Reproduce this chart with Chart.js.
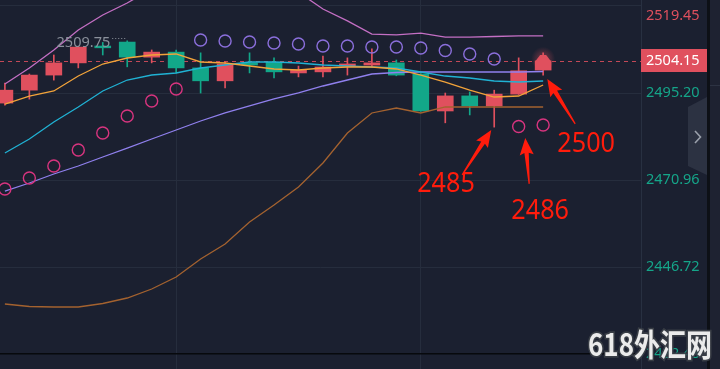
<!DOCTYPE html>
<html>
<head>
<meta charset="utf-8">
<title>K线</title>
<script src="https://cdn.jsdelivr.net/npm/chart.js@4.4.1/dist/chart.umd.min.js"></script>
<style>
html, body { margin: 0; padding: 0; background: #1b2030; overflow: hidden; }
#box { position: relative; width: 720px; height: 369px; }
</style>
</head>
<body>
<div id="box"><canvas id="kline" width="720" height="369"></canvas></div>
<script>
// candles, one per slot, left to right
const opens  = [2492.4, 2496.0, 2500.2, 2503.6, 2508.3, 2509.4, 2505.2, 2506.6, 2502.2, 2498.6, 2503.6, 2503.8, 2500.8, 2501.1, 2502.7, 2503.0, 2503.6, 2500.5, 2490.2, 2494.4, 2491.6, 2494.9, 2501.6];
const highs  = [2498.0, 2500.5, 2505.8, 2508.2, 2509.3, 2509.75, 2507.2, 2507.2, 2506.4, 2503.9, 2506.4, 2505.0, 2502.7, 2505.5, 2505.0, 2507.5, 2504.4, 2500.6, 2495.2, 2495.5, 2496.0, 2505.0, 2506.4];
const lows   = [2491.8, 2493.5, 2498.8, 2502.2, 2505.8, 2502.5, 2503.6, 2500.8, 2495.2, 2496.6, 2500.8, 2499.4, 2499.7, 2499.7, 2500.2, 2502.5, 2500.0, 2490.1, 2486.9, 2489.1, 2485.7, 2494.8, 2500.2];
const closes = [2496.0, 2500.2, 2503.6, 2508.0, 2507.8, 2505.2, 2506.6, 2502.2, 2498.6, 2503.3, 2503.0, 2501.1, 2501.6, 2502.45, 2503.3, 2503.6, 2500.2, 2490.2, 2494.4, 2491.6, 2494.9, 2501.4, 2504.15];

// moving averages
const maFast = [2492.14, 2494.37, 2495.77, 2499.94, 2503.29, 2504.96, 2505.80, 2506.08, 2503.85, 2503.57, 2502.73, 2501.90, 2501.62, 2502.17, 2502.45, 2502.45, 2501.90, 2500.22, 2498.27, 2496.04, 2494.09, 2494.37, 2497.44];
const maSlow = [2478.49, 2482.39, 2487.13, 2491.31, 2495.77, 2498.83, 2500.22, 2500.78, 2502.17, 2503.01, 2503.85, 2503.85, 2503.57, 2503.01, 2502.73, 2502.45, 2502.17, 2501.06, 2499.94, 2499.39, 2498.55, 2498.27, 2498.55];

// bollinger bands
const bollUp  = [2497.72, 2502.17, 2507.19, 2512.76, 2516.94, 2520.29, 2524.2, 2525.9, 2526.1, 2526.1, 2525.0, 2524.3, 2523.3, 2518.6, 2515.3, 2511.6, 2511.4, 2511.9, 2510.8, 2510.8, 2510.95, 2511.1, 2511.1];
const bollMid = [2467.90, 2470.13, 2472.64, 2474.87, 2477.38, 2479.88, 2482.39, 2484.90, 2487.41, 2489.64, 2491.59, 2493.54, 2495.21, 2497.16, 2498.83, 2500.50, 2500.92, 2501.06, 2501.06, 2501.06, 2501.06, 2501.06, 2501.20];
const bollLow = [2436.42, 2435.72, 2435.58, 2435.58, 2436.56, 2438.09, 2440.60, 2443.94, 2448.96, 2453.14, 2459.27, 2464.00, 2469.02, 2475.70, 2484.06, 2489.64, 2491.03, 2489.64, 2491.31, 2491.31, 2491.31, 2491.31, 2491.31];

// parabolic SAR dots
const sarBelow = [2468.46, 2471.53, 2474.87, 2479.33, 2484.06, 2488.80, 2492.98, 2496.32, null, null, null, null, null, null, null, null, null, null, null, null, null, 2485.87, 2486.29];
const sarAbove = [null, null, null, null, null, null, null, null, 2509.98, 2509.70, 2509.42, 2509.14, 2508.86, 2508.31, 2508.31, 2508.03, 2508.03, 2507.75, 2507.05, 2506.08, 2504.68, null, null];

const yTickValues = [2519.45, 2495.20, 2470.96, 2446.72, 2422.48];
const yTickLabels = ['2519.45', '2495.20', '2470.96', '2446.72', '2422.48'];
const xGridSlots = [7, 17];

// hand drawn notes: text, arrow tip, arrow tail, text corner (slot, price)
const noteTexts = ['2485', '2486', '2500'];
const noteTips  = [[19.88, 2484.9], [21.27, 2482.7], [22.17, 2499.1]];
const noteTails = [[18.69, 2472.4], [21.43, 2469.9], [23.31, 2486.6]];
const noteSpots = [[16.85, 2467.6], [20.70, 2460.1], [22.58, 2478.8]];

const RED = '#e0505e', GREEN = '#12a789';
const last = closes.length - 1;

const bodies = opens.map((o, i) => ({ x: i, y: [Math.min(o, closes[i]), Math.max(o, closes[i])] }));
const wicks = lows.map((l, i) => ({ x: i, y: [l, highs[i]] }));
const candleColors = opens.map((o, i) => closes[i] >= o ? RED : GREEN);
const toPoints = arr => arr.map((v, i) => ({ x: i, y: v })).filter(p => p.y !== null);

function lineSet(arr, color, order) {
	return {
		type: 'line', data: toPoints(arr), borderColor: color, borderWidth: 1.3,
		pointRadius: 0, tension: 0, fill: false, order: order
	};
}
function sarSet(arr, color) {
	return {
		type: 'line', data: toPoints(arr), showLine: false, pointRadius: 6,
		pointBorderWidth: 1.4, pointBorderColor: color, pointBackgroundColor: 'rgba(0,0,0,0)',
		borderColor: color, order: 1
	};
}

function drawArrow(ctx, tx, ty, hx, hy) {
	const ang = Math.atan2(hy - ty, hx - tx);
	const len = Math.hypot(hx - tx, hy - ty);
	const head = 15, hw = 7, sw = 2.2;
	ctx.save();
	ctx.translate(tx, ty);
	ctx.rotate(ang);
	ctx.beginPath();
	ctx.moveTo(0, -0.6);
	ctx.lineTo(len - head, -sw);
	ctx.lineTo(len - head - 2, -hw);
	ctx.lineTo(len, 0);
	ctx.lineTo(len - head - 2, hw);
	ctx.lineTo(len - head, sw);
	ctx.lineTo(0, 0.6);
	ctx.closePath();
	ctx.fill();
	ctx.restore();
}

const decor = {
	id: 'decor',
	beforeDraw(chart) {
		const ctx = chart.ctx;
		ctx.save();
		ctx.fillStyle = '#1b2030';
		ctx.fillRect(0, 0, chart.width, chart.height);
		ctx.restore();
	},
	beforeDatasetsDraw(chart) {
		const { ctx, chartArea: a } = chart;
		const py = Math.round(chart.scales.y.getPixelForValue(closes[last])) + 0.5;
		ctx.save();
		ctx.strokeStyle = 'rgba(224,80,94,0.85)';
		ctx.lineWidth = 1;
		ctx.setLineDash([4, 4]);
		ctx.beginPath();
		ctx.moveTo(a.left, py);
		ctx.lineTo(a.right, py);
		ctx.stroke();
		ctx.restore();
	},
	afterDatasetsDraw(chart) {
		// blinking marker on the live candle
		const ctx = chart.ctx;
		const cx = chart.scales.x.getPixelForValue(last);
		const top = chart.scales.y.getPixelForValue(Math.max(opens[last], closes[last]));
		ctx.save();
		const g = ctx.createRadialGradient(cx, top - 2, 1, cx, top - 2, 12);
		g.addColorStop(0, 'rgba(224,80,94,0.45)');
		g.addColorStop(1, 'rgba(224,80,94,0)');
		ctx.fillStyle = g;
		ctx.fillRect(cx - 12, top - 14, 24, 24);
		ctx.fillStyle = RED;
		ctx.beginPath();
		ctx.moveTo(cx - 8, top + 0.5);
		ctx.lineTo(cx - 3, top - 6);
		ctx.lineTo(cx + 3, top - 6);
		ctx.lineTo(cx + 8, top + 0.5);
		ctx.closePath();
		ctx.fill();
		ctx.restore();
	},
	afterDraw(chart) {
		const { ctx, chartArea: a } = chart;
		const xs = chart.scales.x, ys = chart.scales.y;

		// highest high marker
		let iMax = 0;
		highs.forEach((h, i) => { if (h > highs[iMax]) iMax = i; });
		const mx = xs.getPixelForValue(iMax), my = ys.getPixelForValue(highs[iMax]);
		ctx.save();
		ctx.strokeStyle = '#8b919c';
		ctx.setLineDash([1, 2]);
		ctx.beginPath();
		ctx.moveTo(mx - 15, Math.round(my) - 2.5);
		ctx.lineTo(mx - 1, Math.round(my) - 2.5);
		ctx.stroke();
		ctx.fillStyle = '#8b919c';
		ctx.font = '14.5px "Noto Sans"';
		ctx.textAlign = 'right';
		ctx.textBaseline = 'middle';
		ctx.fillText(highs[iMax].toFixed(2), mx - 17, my + 2);
		ctx.restore();

		// current price tag
		const py = ys.getPixelForValue(closes[last]);
		ctx.save();
		ctx.fillStyle = RED;
		ctx.fillRect(a.right, Math.round(py) - 12, 66, 23);
		ctx.fillStyle = '#ffffff';
		ctx.font = '14.5px "Noto Sans"';
		ctx.textBaseline = 'middle';
		ctx.fillText(closes[last].toFixed(2), a.right + 5, py);
		ctx.restore();

		// right strip and collapse tab
		ctx.save();
		ctx.fillStyle = '#0d1016';
		ctx.fillRect(707, 0, 3, chart.height);
		ctx.fillStyle = '#1e2231';
		ctx.fillRect(710, 0, 10, chart.height);
		ctx.fillStyle = '#2d3343';
		ctx.fillRect(710, 85, 10, 1);
		ctx.fillStyle = '#2c3242';
		ctx.beginPath();
		ctx.moveTo(688, 107);
		ctx.lineTo(707, 97);
		ctx.lineTo(707, 175);
		ctx.lineTo(688, 166);
		ctx.closePath();
		ctx.fill();
		ctx.strokeStyle = '#9aa0ab';
		ctx.lineWidth = 1.6;
		ctx.beginPath();
		ctx.moveTo(695, 131);
		ctx.lineTo(700.5, 137);
		ctx.lineTo(695, 143);
		ctx.stroke();
		ctx.restore();

		// notes
		ctx.save();
		ctx.fillStyle = '#ff1c0c';
		noteTexts.forEach((t, k) => {
			drawArrow(ctx,
				xs.getPixelForValue(noteTails[k][0]), ys.getPixelForValue(noteTails[k][1]),
				xs.getPixelForValue(noteTips[k][0]), ys.getPixelForValue(noteTips[k][1]));
			const tx = xs.getPixelForValue(noteSpots[k][0]), ty = ys.getPixelForValue(noteSpots[k][1]);
			ctx.save();
			ctx.translate(tx, ty);
			ctx.scale(0.9, 1);
			ctx.font = '28px "Noto Sans"';
			ctx.textBaseline = 'alphabetic';
			ctx.fillText(t, 0, 0);
			ctx.restore();
		});
		ctx.restore();

		// watermark
		ctx.save();
		ctx.translate(588, 356);
		ctx.scale(1, 1.2);
		ctx.font = 'bold 26px "Noto Sans CJK SC"';
		ctx.lineWidth = 3;
		ctx.strokeStyle = 'rgba(60,64,72,0.9)';
		ctx.strokeText('618外汇网', 0, 0);
		ctx.fillStyle = '#ebebeb';
		ctx.fillText('618外汇网', 0, 0);
		ctx.restore();
	}
};

new Chart(document.getElementById('kline'), {
	type: 'bar',
	data: {
		datasets: [
			sarSet(sarBelow, '#d8347f'),
			sarSet(sarAbove, '#8b6fdc'),
			lineSet(maFast, '#f2a33a', 2),
			lineSet(maSlow, '#20b2d4', 2),
			lineSet(bollUp, '#c46fc4', 2),
			lineSet(bollMid, '#9080ee', 2),
			lineSet(bollLow, '#a4622f', 2),
			{ type: 'bar', data: bodies, backgroundColor: candleColors, barThickness: 16, grouped: false, minBarLength: 1, borderWidth: 0, order: 3 },
			{ type: 'bar', data: wicks, backgroundColor: candleColors, barThickness: 1, grouped: false, borderWidth: 0, order: 4 }
		]
	},
	options: {
		responsive: false,
		animation: false,
		layout: { autoPadding: false, padding: { left: 0, top: 0, bottom: 0, right: 12 } },
		plugins: { legend: { display: false }, tooltip: { enabled: false } },
		scales: {
			x: {
				type: 'linear', min: -0.2, max: 26, offset: false,
				afterBuildTicks: s => { s.ticks = xGridSlots.map(v => ({ value: v })); },
				ticks: { display: false },
				grid: { color: '#262d3d', drawTicks: false, offset: false },
				border: { display: false }
			},
			y: {
				type: 'linear', position: 'right', min: 2418.31, max: 2521.12,
				afterBuildTicks: s => { s.ticks = yTickValues.map(v => ({ value: v })); },
				afterFit: s => { s.width = 67; s.paddingTop = 0; s.paddingBottom = 0; },
				ticks: {
					autoSkip: false, padding: 5, crossAlign: 'near',
					font: { family: 'Noto Sans', size: 14.5, lineHeight: 1.4 },
					color: c => c.tick.value > closes[last] ? RED : '#15a589',
					callback: v => {
						const lbl = yTickLabels[yTickValues.indexOf(v)];
						return v === yTickValues[0] ? ['', lbl] : lbl;
					}
				},
				grid: {
					drawTicks: false,
					color: c => c.tick && c.tick.value === yTickValues[yTickValues.length - 1] ? '#07090d' : '#262d3d',
					lineWidth: c => c.tick && c.tick.value === yTickValues[yTickValues.length - 1] ? 1.6 : 1
				},
				border: { display: true, color: '#283041' }
			}
		}
	},
	plugins: [decor]
});
</script>
</body>
</html>
